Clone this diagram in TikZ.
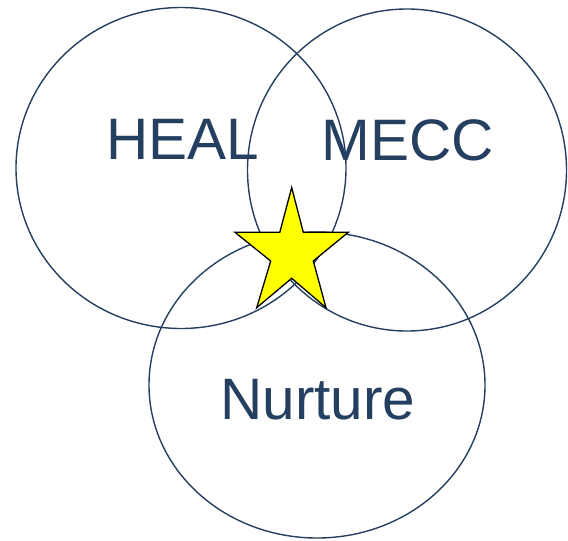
\documentclass[tikz,border=0pt]{standalone}
\usepackage{fontspec}
\setmainfont{Liberation Sans}
\definecolor{navy}{HTML}{243F60}
\definecolor{staryellow}{HTML}{FFFF00}
\begin{document}
\begin{tikzpicture}[x=1pt,y=-1pt,
  ring/.style={draw=navy,line width=1.4pt},
  label/.style={text=navy,inner sep=0pt,anchor=base,font=\fontsize{58.5}{62}\selectfont},
  starshape/.style={draw=black,line width=1.3pt,fill=staryellow,line join=miter}]
\useasboundingbox (0,0) rectangle (568,541);
% three overlapping rings
\draw[ring] (181,168) ellipse [x radius=165,y radius=160.5];
\draw[ring] (407,170) ellipse [x radius=159.5,y radius=161];
\draw[ring] (317,385) ellipse [x radius=168,y radius=153];
% labels
\node[label] (heal) at (182.5,159) {HEAL};
\node[label] (mecc) at (407.5,160.5) {MECC};
\node[label] (nurture) at (318,419) {Nurture};
% star in the common centre
\draw[starshape] (291.7,187.5) -- (303.3,232.3) -- (348.3,232.3) -- (313.3,261)
  -- (326,307.7) -- (291.7,278.3) -- (256.7,307.7) -- (270.7,261)
  -- (235,232.3) -- (279.8,232.3) -- cycle;
\end{tikzpicture}
\end{document}
